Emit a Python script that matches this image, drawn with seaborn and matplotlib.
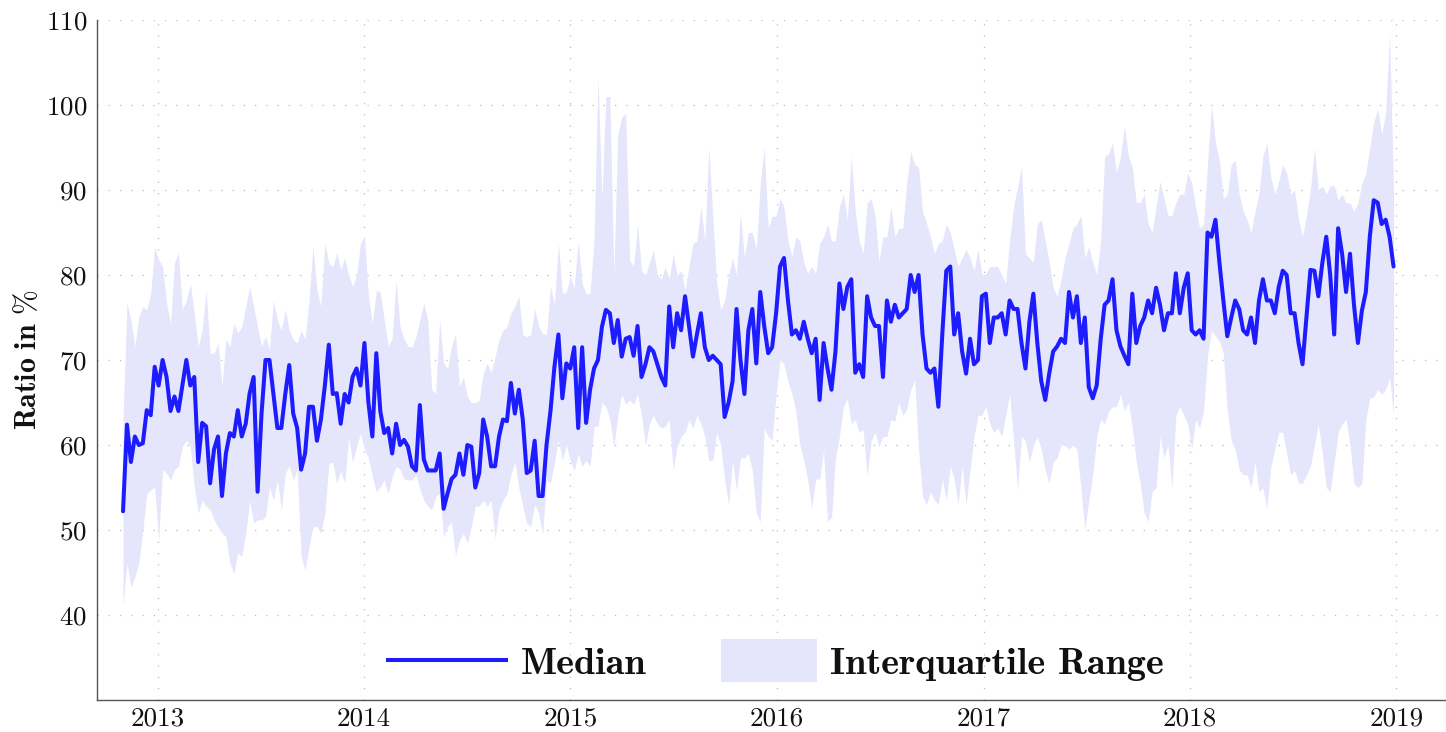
import numpy as np
import pandas as pd
import matplotlib
matplotlib.use("Agg")
import matplotlib.pyplot as plt
import matplotlib.dates as mdates
import seaborn as sns
from matplotlib.lines import Line2D
from matplotlib.patches import Patch, Rectangle
from matplotlib.legend_handler import HandlerBase, HandlerPatch

# ---------------- data (weekly samples) ----------------
start_date = "2012-11-01"
step = "7D"

median = [
    52.2, 62.4, 58, 61, 60, 60.2, 64.1, 63.5, 69.2, 67, 70, 68, 64, 65.7, 64, 67, 70, 67, 68, 58,
    62.6, 62.2, 55.5, 59.5, 61, 54, 59, 61.4, 61, 64.1, 61, 62.5, 66.1, 68, 54.5, 63.7, 70, 70, 66, 62,
    62, 66, 69.4, 63.7, 62, 57.1, 59, 64.5, 64.5, 60.5, 63, 67, 71.8,
    66, 66.1, 62.5, 66, 65, 68, 69, 67, 72, 65, 61, 70.8, 64, 61.4, 62, 59, 62.5, 60, 60.6, 59.8,
    57.5, 57, 64.7, 58.3, 57, 57, 57, 59, 52.5, 54.3, 56, 56.5, 59, 56.5, 60, 59.8, 55, 56.7, 63, 61,
    57.5, 57.5, 61, 63, 62.8, 67.3, 63.7, 66.5, 63, 56.7,
    57, 60.5, 54, 54, 60, 64, 69.2, 73, 65.5, 69.6, 69, 71.5, 62, 71.5, 62.6, 66.5, 69, 70, 73.9, 75.9,
    75.5, 72, 74.7, 70.4, 72.5, 72.7, 70.5, 74, 68, 69.5, 71.5, 71, 69.5, 68, 67, 76.3, 71.5, 75.5, 73.5,
    77.5, 74, 70.4, 73, 75.5, 71.5, 70, 70.5, 70, 69.5, 63.3, 65, 67.5, 76,
    70, 66, 73.5, 76, 69.6, 78, 74, 70.8, 71.5, 75.5, 81, 82, 77, 73, 73.5, 72.5, 74.5, 72.5, 70.8, 72.5,
    65.3, 72, 69, 66.5, 71, 79, 76, 78.6, 79.5, 68.5, 69.5, 68, 77.5, 75, 74, 74, 68, 77, 74.5, 76.5,
    75, 75.5, 76, 80, 78, 80, 73, 69, 68.5, 69, 64.5, 73.1, 80.5,
    81, 73, 75.5, 71, 68.4, 72.5, 69.5, 70, 77.5, 77.8, 72, 75, 75, 75.5, 73, 77, 76, 76, 72, 69,
    74.5, 77.8, 72, 67.5, 65.3, 68.4, 71, 71.6, 72.5, 72, 78, 75, 77.5, 72, 75, 66.8, 65.5, 67, 72.4, 76.5,
    77, 79.5, 73.5, 71.6, 70.5, 69.5, 77.8, 72, 74, 75, 77, 75.5, 78.5,
    76.5, 73.5, 75.5, 75.5, 80.2, 75.5, 78.5, 80.2, 73.5, 73, 73.5, 72.5, 85, 84.5, 86.5, 81.5, 77, 72.8,
    75, 77, 76, 73.5, 73, 75, 72, 77, 79.5, 77, 77, 75.5, 78.6, 80.5, 80, 75.5, 75.5, 72, 69.5, 75,
    80.6, 80.5, 77.5, 81.4, 84.5, 80, 73, 85.5, 82.5, 78, 82.5, 76.5, 72, 75.8, 78, 84.5, 88.8, 88.5,
    86, 86.5, 84.5, 81,
]

upper = [
    63, 76.7, 74.7, 71.6, 75.1, 76.3, 75.9, 77.8, 83.3, 81.8, 81, 76.7, 74.3, 81.4, 82.6, 75.9, 77, 79,
    75.5, 71.6, 73.5, 78.2, 70.8, 70.8, 72, 66.9, 72.4, 71.6, 74.3, 73.2, 73.9, 76.3, 78.6, 76.3, 73.9,
    71.6, 72.8, 71.2, 77, 74.7, 73.5, 75.9, 73.5, 72.4, 72, 73.5, 72.4, 77, 83.3, 78.2, 76.3, 83.7, 81.4,
    81, 82.6, 80.6, 82, 80, 78.6, 80, 83.7, 84.5, 77.5, 74.3, 78.2, 78, 74.7, 71.6, 72.5, 79.4, 73.9,
    72.5, 71.6, 71.5, 72.7, 74.7, 76.7, 74.7, 66.5, 66.1, 74.7, 69.6, 69, 71.6, 73, 66.9, 68, 65.7, 65,
    65, 65.3, 68.4, 69.6, 68.5, 70.4, 72.4, 73.5, 73.9, 75.5, 76.3, 77.5, 73, 72.7,
    73, 76, 74, 73.1, 73, 78.6, 76.5, 83.7, 77.8, 78, 79.8, 78.5, 84, 79, 77.8, 77.8, 84, 103.3, 89,
    101, 101, 80, 96.5, 98.6, 99, 81.7, 81, 86, 80.5, 80, 81.5, 82.9, 80, 79.5, 81, 79.5, 82.5, 80,
    80.5, 78.2, 81, 83.7, 84, 88, 84, 95.1, 87, 79, 75.9, 77, 80, 82, 80,
    87.3, 82, 85, 85, 83, 90.8, 95, 85.5, 86.9, 86.9, 89, 88, 84, 82.2, 84.5, 84, 81.5, 80.2, 81, 80.2,
    83.7, 84.5, 86, 84, 84, 88, 89.5, 86.5, 94, 87.5, 84, 82.5, 88.5, 89, 87, 81.5, 84.5, 84.5, 88,
    84.5, 85.5, 85.5, 90.8, 94.5, 93, 92.7, 87.5, 86.1, 84.5, 82.5, 83.7, 84, 86,
    85, 83, 81, 82, 83, 82, 80.5, 83, 80, 80.2, 81, 81, 81, 80, 79, 84, 88, 90.4, 92.7, 82.5, 82, 81.5,
    86, 86.5, 84, 81.5, 78.5, 77.5, 79.5, 82, 83.7, 85.5, 86, 87, 82, 83.3, 81.5, 80, 84, 93.9, 94.3,
    95.5, 92, 94, 97.5, 94, 92.7, 88.5, 88.5, 89.5, 86, 85, 88,
    91, 89, 87, 87, 88.5, 89.5, 89.5, 92, 90.8, 88, 85.5, 86, 93, 100, 95.5, 93.5, 89, 89.5, 93, 93.5,
    89.5, 87.5, 86.5, 85, 87.5, 89.5, 94, 95.5, 91.5, 89.5, 91, 93, 92, 89.5, 90, 86.5, 84.5, 87, 90,
    95, 90, 90.5, 89.5, 90.5, 90.5, 88.8, 89.5, 88.5, 88.5, 87.5, 88.5, 90.8, 92, 95, 98, 99.5, 96.5,
    99, 108.5, 90,
]

lower = [
    41, 46.1, 43.3, 44.5, 46.1, 50, 54.3, 54.7, 55.1, 48.8, 57.1, 56.7, 55.9, 57.1, 57.5, 59.8, 60.6,
    59.8, 55.1, 52, 53.5, 52.8, 52.4, 51.2, 50.4, 49.6, 49.2, 46.1, 44.9, 47.3, 46.9, 49.6, 53.5, 50.8,
    51.2, 51.2, 51.6, 55.1, 53.5, 55.9, 52.4, 56.7, 57.5, 55.9, 57.1, 46.9, 45.3, 48, 50.4, 50.4, 49.6,
    52, 57.8,
    58, 55.5, 57, 55.5, 61, 58, 59.8, 61.4, 59.5, 58.5, 56.3, 54.5, 55.1, 55.9, 54.3, 56.3, 57.5, 57.1,
    56, 55.9, 55.9, 56.5, 54.8, 53.5, 52.8, 52.4, 53.9, 54.3, 49.2, 50.4, 51, 47, 48.8, 49.6, 48.5,
    50.4, 52.8, 52.8, 53.5, 52.8, 53.5, 49, 52.4, 53.5, 54.3, 56.5, 58, 55, 52.8, 50.8,
    50.4, 53, 52, 49.5, 55.9, 55.5, 58, 60.6, 58.2, 60, 58.2, 57, 59, 57.5, 58.2, 57.5, 62.2, 62.2, 65,
    64.5, 63, 59.8, 63.5, 66, 64.8, 65.3, 64.8, 66, 63.5, 60, 62.5, 63.5, 62.5, 62, 62.2, 63, 57.1,
    59.8, 61, 61.5, 63, 62, 63.5, 62.5, 61, 58.2, 58.2, 61.5, 60, 56, 53, 58.2, 54.7,
    58.5, 58.5, 59, 57, 52, 51, 62, 61, 60.6, 66, 70, 69.5, 67.5, 66, 64, 60, 58.2, 55.9, 52.5, 56, 56,
    59.4, 51, 51.5, 58.5, 61, 64.5, 65.5, 62.5, 63, 61.5, 61.8, 56.3, 60.5, 61.5, 59.8, 61, 61, 63,
    62.8, 65, 63.5, 64.2, 66.5, 67.7, 59.5, 54, 53, 54.5, 53.5, 53, 56, 53.5,
    57.5, 56, 53, 57.5, 53, 57, 61, 63.5, 63.5, 64.5, 62.5, 61.5, 62, 61, 63.5, 66, 60.6, 54.7, 61,
    60.5, 58, 60, 61, 59.5, 57, 55.5, 58, 58.5, 60, 60, 59.5, 60, 59.5, 55, 50, 53.5, 56.5, 61, 63,
    62.5, 64, 64.5, 64.5, 66, 64, 65, 62, 58, 55.5, 52, 51, 54.5, 55,
    61, 58.5, 60, 55, 63.5, 64.5, 63.5, 62.5, 59.5, 63, 62, 64, 70.5, 73.5, 72.8, 72.2, 70.8, 64, 60.5,
    59.5, 57.1, 56.5, 56.5, 55, 58, 54.5, 55, 52.5, 57.5, 59.5, 61.5, 61.5, 59, 56.5, 57, 55.5, 55.5,
    56.5, 57.5, 60, 62.5, 59, 55, 54.5, 58, 61.5, 62.5, 63, 60, 55.5, 55, 55.5, 63, 65.5, 65.7, 66.5,
    66, 66.5, 68, 63.5,
]

y_ticks = [40, 50, 60, 70, 80, 90, 100, 110]
labels = ["Median", "Interquartile Range"]
y_label = r"$\mathbf{Ratio\ in}$ %"

# ---------------- style ----------------
line_color = "#1c1cff"
fill_color = "#e5e5fb"
text_color = "#111111"

sns.set_style("white")
plt.rcParams.update({
    "font.family": ["cmr10", "DejaVu Serif"],
    "mathtext.fontset": "cm",
    "axes.formatter.use_mathtext": True,
    "axes.unicode_minus": False,
    "text.color": text_color,
})

n = min(len(median), len(upper), len(lower))
dates = pd.date_range(start_date, periods=n, freq=step)
df = pd.DataFrame({"date": dates, "median": median[:n],
                   "lower": lower[:n], "upper": upper[:n]})

W, H = 1446, 732
fig = plt.figure(figsize=(W / 100, H / 100), dpi=100)
ax = fig.add_axes([97 / W, 1 - 700 / H, (1445 - 97) / W, 680 / H])

ax.fill_between(df["date"], df["lower"], df["upper"], color=fill_color, lw=0, zorder=2)
sns.lineplot(data=df, x="date", y="median", ax=ax, color=line_color, lw=2.9,
             estimator=None, legend=False, zorder=3)

ax.set_xlim(pd.Timestamp("2012-09-16"), pd.Timestamp("2019-03-28"))
ax.set_ylim(30, 110)
ax.set_yticks(y_ticks)
ax.xaxis.set_major_locator(mdates.YearLocator())
ax.xaxis.set_major_formatter(mdates.DateFormatter("%Y"))

ax.set_axisbelow(True)
ax.grid(True, linestyle=(0, (1, 8)), color="#bdbdbd", lw=0.9)
for s in ["top", "right"]:
    ax.spines[s].set_visible(False)
for s in ["left", "bottom"]:
    ax.spines[s].set_color("#555555")
    ax.spines[s].set_linewidth(1.0)

ax.tick_params(axis="both", direction="in", length=7, width=0.9, color="#888888",
               labelsize=19.5, labelcolor=text_color)
ax.tick_params(axis="x", pad=5)
ax.tick_params(axis="y", pad=7)
ax.set_xlabel("")
ax.set_ylabel(y_label, fontsize=21.5, labelpad=3, color=text_color)


class LongLineHandler(HandlerBase):
    def __init__(self, ext):
        super().__init__()
        self.ext = ext

    def create_artists(self, legend, orig_handle, xdescent, ydescent, width, height,
                       fontsize, trans):
        y = height / 2 - ydescent
        ln = Line2D([-xdescent - self.ext * fontsize, -xdescent + width], [y, y],
                    color=orig_handle.get_color(), lw=orig_handle.get_linewidth(),
                    solid_capstyle="butt")
        ln.set_transform(trans)
        return [ln]


def tall_patch(legend, orig_handle, xdescent, ydescent, width, height, fontsize):
    h = 1.13 * fontsize
    return Rectangle((-xdescent, -ydescent + height / 2 - h / 2), width, h)


line_handle = Line2D([], [], color=line_color, lw=2.9)
patch_handle = Patch(facecolor=fill_color, edgecolor="none")
leg = ax.legend([line_handle, patch_handle], labels,
                handler_map={Line2D: LongLineHandler(0.68),
                             Patch: HandlerPatch(patch_func=tall_patch)},
                loc="center", bbox_to_anchor=(0.5126, 0.053), bbox_transform=ax.transAxes,
                ncol=2, frameon=False, borderpad=0, handlelength=2.51, handletextpad=0.34,
                columnspacing=1.94, prop={"family": "cmb10", "size": 27.5})
for t in leg.get_texts():
    t.set_color(text_color)

fig.savefig("out.png", dpi=100)
